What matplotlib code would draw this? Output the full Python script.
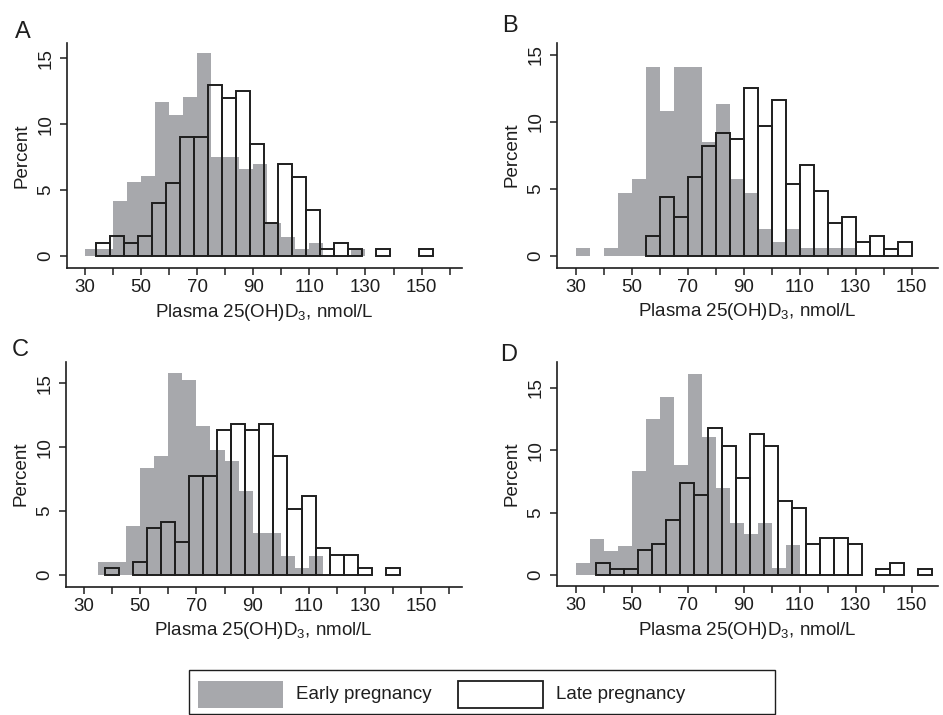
import matplotlib
matplotlib.use("Agg")
import matplotlib.pyplot as plt
from matplotlib.patches import Rectangle

plt.rcParams['font.family'] = ['Liberation Sans', 'DejaVu Sans']
plt.rcParams['mathtext.fontset'] = 'custom'
plt.rcParams['mathtext.rm'] = 'Liberation Sans'
plt.rcParams['mathtext.default'] = 'regular'

# bin width of both histograms (nmol/L)
bin_width = 5

# panel A
a_early_start = 30
a_early = [0.5, 0.5, 4.2, 5.6, 6.1, 11.7, 10.7, 12.1, 15.4, 7.5, 7.5, 6.6, 7.0,
           2.5, 1.45, 0.5, 1.0, 0, 0, 0.5]
a_late_start = 33.9
a_late = [1.0, 1.5, 1.0, 1.5, 4.0, 5.5, 9.0, 9.0, 13.0, 12.0, 12.5, 8.5, 2.5,
          7.0, 6.0, 3.5, 0.5, 1.0, 0.5, 0, 0.5, 0, 0, 0.5]

# panel B
b_early_start = 30
b_early = [0.55, 0, 0.55, 4.7, 5.7, 14.05, 10.8, 14.05, 14.05, 8.5, 11.3, 5.7,
           4.7, 2.0, 1.05, 2.0, 0.55, 0.55, 0.55, 0.55]
b_late_start = 55.1
b_late = [1.47, 4.4, 2.9, 5.85, 8.2, 9.15, 8.7, 12.55, 9.7, 11.6, 5.35, 6.8,
          4.85, 2.45, 2.9, 1.05, 1.47, 0.5, 1.05]

# panel C
c_early_start = 35
c_early = [1.0, 1.0, 3.8, 8.4, 9.3, 15.8, 15.3, 11.7, 9.8, 8.9, 6.6, 3.3, 3.3,
           1.5, 0.55, 1.5]
c_late_start = 37.4
c_late = [0.55, 0, 1.05, 3.65, 4.15, 2.6, 7.75, 7.75, 11.35, 11.85, 11.35, 11.85,
          9.3, 5.15, 6.2, 2.1, 1.55, 1.55, 0.55, 0, 0.55]

# panel D
d_early_start = 30
d_early = [1.0, 2.85, 1.9, 2.35, 8.35, 12.5, 14.3, 8.8, 16.15, 11.1, 7.0, 4.2,
           3.3, 4.2, 0.6, 2.4]
d_late_start = 37.1
d_late = [1.0, 0.5, 0.5, 2.0, 2.5, 4.45, 7.4, 6.4, 11.8, 10.35, 7.8, 11.3, 10.35,
          5.9, 5.4, 2.5, 3.0, 3.0, 2.5, 0, 0.5, 1.0, 0, 0.5]

panels = [
    ('A', a_early_start, a_early, a_late_start, a_late),
    ('B', b_early_start, b_early, b_late_start, b_late),
    ('C', c_early_start, c_early, c_late_start, c_late),
    ('D', d_early_start, d_early, d_late_start, d_late),
]

x_ticks = [30, 50, 70, 90, 110, 130, 150]
x_minor = [40, 60, 80, 100, 120, 140, 160]
y_ticks = [0, 5, 10, 15]
x_label = 'Plasma 25(OH)D$_3$, nmol/L'
legend_labels = ['Early pregnancy', 'Late pregnancy']

gray = '#a7a8ac'
ink = '#1e1e1e'

W, H = 943, 715
fig = plt.figure(figsize=(W / 100, H / 100), dpi=100)


def fbox(l, r, t, b):
    return [l / W, 1 - b / H, (r - l) / W, (b - t) / H]


# axes boxes in pixels (left, right, top, bottom), axis ranges, label spot
layout = {
    'A': (fbox(67, 462, 42.7, 268.3), (23.6, 164.4), (-0.95, 16.2), (15, 38)),
    'B': (fbox(556.7, 938, 42.7, 267.7), (23.2, 159.4), (-0.9, 15.9), (502, 32)),
    'C': (fbox(66, 461.7, 361.7, 586.7), (23.6, 164.4), (-0.92, 16.7), (12, 356)),
    'D': (fbox(556.7, 938, 361.7, 586), (23.2, 159.4), (-0.88, 17.1), (500, 361)),
}

for name, e_start, e_vals, l_start, l_vals in panels:
    rect, xlim, ylim, (lx, ly) = layout[name]
    ax = fig.add_axes(rect)

    ex = [e_start + bin_width * i for i, v in enumerate(e_vals) if v > 0]
    ev = [v for v in e_vals if v > 0]
    ax.bar(ex, ev, width=bin_width, align='edge', color=gray, linewidth=0, zorder=1)

    lxs = [l_start + bin_width * i for i, v in enumerate(l_vals) if v > 0]
    lv = [v for v in l_vals if v > 0]
    ax.bar(lxs, lv, width=bin_width, align='edge', fill=False, edgecolor=ink,
           linewidth=1.4, zorder=2)

    ax.set_xlim(*xlim)
    ax.set_ylim(*ylim)
    ax.set_xticks(x_ticks)
    ax.set_xticks([t for t in x_minor if t < xlim[1]], minor=True)
    ax.set_yticks(y_ticks)
    ax.tick_params(axis='both', which='both', direction='out', length=5, width=1.1,
                   color=ink, labelsize=13.5, labelcolor=ink)
    ax.tick_params(axis='y', labelrotation=90, pad=4)
    ax.tick_params(axis='x', pad=3)
    for lab in ax.get_yticklabels():
        lab.set_va('center')
    for s in ['top', 'right']:
        ax.spines[s].set_visible(False)
    for s in ['left', 'bottom']:
        ax.spines[s].set_linewidth(1.2)
        ax.spines[s].set_color(ink)
    ax.set_ylabel('Percent', fontsize=13.5, color=ink, labelpad=5)
    ax.set_xlabel(x_label, fontsize=13.5, color=ink, labelpad=4)
    ax.patch.set_visible(False)

    fig.text(lx / W, 1 - ly / H, name, fontsize=17, color=ink, ha='left', va='baseline')

# legend box at the bottom
fig.add_artist(Rectangle((189 / W, 1 - 714 / H), (775 - 189) / W, (714 - 670) / H,
                         transform=fig.transFigure, fill=False, edgecolor=ink, linewidth=1))
fig.add_artist(Rectangle((198 / W, 1 - 708 / H), 85 / W, 27.5 / H,
                         transform=fig.transFigure, facecolor=gray, linewidth=0))
fig.add_artist(Rectangle((458 / W, 1 - 708 / H), 85 / W, 27.5 / H,
                         transform=fig.transFigure, facecolor='white', edgecolor=ink, linewidth=1.3))
fig.text(296 / W, 1 - 694.5 / H, legend_labels[0], fontsize=13.5, color=ink, va='center')
fig.text(556 / W, 1 - 694.5 / H, legend_labels[1], fontsize=13.5, color=ink, va='center')

fig.savefig('out.png', dpi=100)
